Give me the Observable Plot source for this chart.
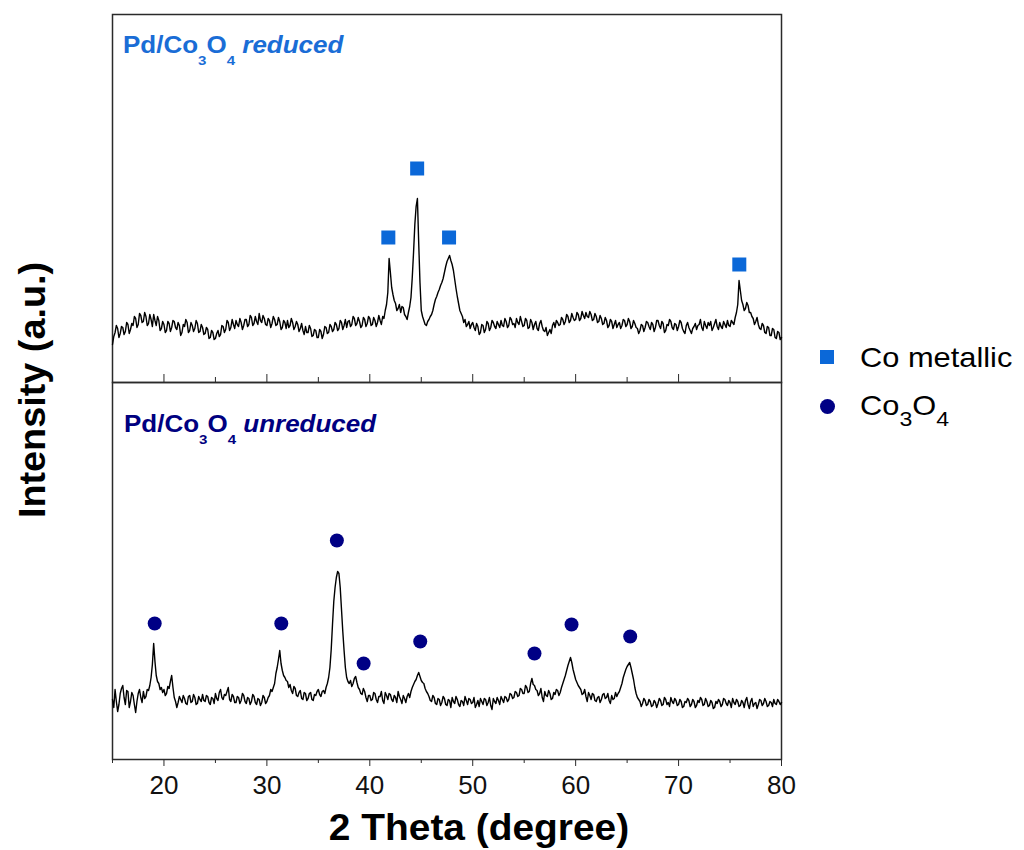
<!DOCTYPE html>
<html>
<head>
<meta charset="utf-8">
<script src="https://cdn.jsdelivr.net/npm/d3@7"></script>
<script src="https://cdn.jsdelivr.net/npm/@observablehq/plot@0.6"></script>
<style>
  body { margin: 0; background: #fff; font-family: "Liberation Sans", Arial, sans-serif; }
  #wrap { position: relative; width: 1024px; height: 850px; overflow: hidden; background: #fff; }
  .abs { position: absolute; white-space: nowrap; }
  .plotbox { position: absolute; left: 0; }
  .panel-label { font-size: 23px; line-height: 23px; font-weight: bold; transform: scaleX(1.13); transform-origin: left center; }
  .panel-label sub { font-size: 0.58em; position: relative; top: 0.9em; vertical-align: baseline; line-height: 0; }
  .legend-text { font-size: 28px; line-height: 28px; color: #000; transform: scaleX(1.1); transform-origin: left center; }
  .legend-text sub { font-size: 0.75em; position: relative; top: 0.55em; vertical-align: baseline; line-height: 0; }
  .axis-title { font-size: 36px; line-height: 36px; font-weight: bold; color: #000; }
</style>
</head>
<body>
<div id="wrap">
  <div class="plotbox" id="topPlot" style="top:0px"></div>
  <div class="plotbox" id="bottomPlot" style="top:378px"></div>

  <div class="abs panel-label" style="left:123px; top:33.5px; color:#1a6dd6;">Pd/Co<sub>3</sub>O<sub>4</sub> <i>reduced</i></div>
  <div class="abs panel-label" style="left:124px; top:412.5px; color:#000080;">Pd/Co<sub>3</sub>O<sub>4</sub> <i>unreduced</i></div>

  <div class="abs" style="left:820px; top:350px; width:14px; height:14px; background:#0b68d8;"></div>
  <div class="abs legend-text" style="left:860px; top:343.5px;">Co metallic</div>
  <div class="abs" style="left:820px; top:399px; width:15px; height:15px; border-radius:50%; background:#000085;"></div>
  <div class="abs legend-text" style="left:860px; top:391.5px;">Co<sub>3</sub>O<sub>4</sub></div>

  <div class="abs axis-title" style="left:479px; top:828px; transform: translate(-50%,-50%) scaleX(1.08);">2 Theta (degree)</div>
  <div class="abs axis-title" style="left:33px; top:390px; transform: translate(-50%,-50%) rotate(-90deg) scaleX(1.05);">Intensity (a.u.)</div>
</div>
<script>
// ---- sampling of the 2θ axis (degrees) ----
const thetaStart = 15;
const thetaStep = 0.125;

// ---- Pd/Co3O4 reduced: intensity (a.u.), one value every 0.125° from 15° to 80° (8 per row = 1°) ----
const reducedIntensity = [
  38, 46, 50, 57, 54, 45, 49, 56,        // 15
  55, 48, 51, 60, 58, 49, 53, 59,        // 16
  57, 66, 64, 55, 58, 69, 67, 60,        // 17
  61, 70, 66, 57, 59, 68, 63, 56,        // 18
  68, 62, 57, 66, 62, 52, 54, 61,        // 19
  58, 50, 52, 61, 59, 51, 55, 62,        // 20
  61, 55, 53, 60, 57, 47, 50, 58,        // 21
  56, 63, 60, 50, 52, 60, 57, 51,        // 22
  54, 62, 59, 50, 51, 58, 55, 48,        // 23
  49, 55, 53, 44, 45, 52, 50, 43,        // 24
  44, 49, 52, 46, 48, 57, 56, 50,        // 25
  53, 62, 60, 52, 55, 63, 58, 54,        // 26
  62, 58, 56, 64, 60, 53, 57, 63,        // 27
  63, 56, 58, 67, 65, 57, 59, 66,        // 28
  61, 58, 69, 62, 60, 67, 64, 58,        // 29
  57, 64, 62, 55, 59, 66, 63, 57,        // 30
  58, 65, 61, 53, 55, 62, 60, 54,        // 31
  62, 55, 57, 64, 60, 53, 56, 61,        // 32
  58, 51, 54, 59, 52, 48, 56, 50,        // 33
  50, 57, 54, 46, 47, 53, 52, 45,        // 34
  45, 53, 51, 44, 48, 56, 55, 49,        // 35
  50, 58, 56, 51, 53, 60, 58, 52,        // 36
  54, 62, 60, 53, 57, 63, 55, 61,        // 37
  62, 56, 58, 66, 64, 57, 59, 65,        // 38
  61, 55, 57, 65, 63, 56, 59, 66,        // 39
  64, 57, 58, 65, 62, 56, 60, 67,        // 40
  62, 58, 66, 64, 72, 78, 90, 124,       // 41
  110, 95, 88, 82, 79, 72, 74, 78,       // 42
  70, 76, 75, 68, 66, 63, 70, 76,        // 43
  85, 105, 130, 158, 176, 184, 140, 100, // 44
  72, 66, 62, 58, 57, 61, 63, 66,        // 45
  68, 72, 78, 83, 86, 90, 93, 97,        // 46
  100, 104, 110, 116, 121, 124, 127, 122,// 47
  118, 112, 103, 94, 86, 79, 72, 69,     // 48
  66, 60, 63, 56, 58, 61, 54, 58,        // 49
  60, 55, 52, 59, 56, 48, 50, 58,        // 50
  57, 50, 53, 61, 59, 52, 55, 62,        // 51
  60, 56, 54, 61, 58, 55, 62, 57,        // 52
  56, 64, 61, 55, 57, 65, 63, 58,        // 53
  59, 55, 64, 60, 58, 66, 61, 56,        // 54
  57, 64, 62, 54, 55, 63, 60, 53,        // 55
  58, 61, 54, 52, 59, 62, 56, 52,        // 56
  51, 55, 47, 50, 53, 49, 57, 60,        // 57
  55, 62, 60, 57, 58, 65, 63, 58,        // 58
  61, 68, 66, 60, 62, 69, 65, 62,        // 59
  63, 70, 68, 62, 64, 71, 67, 64,        // 60
  70, 66, 65, 71, 68, 62, 63, 69,        // 61
  66, 60, 61, 67, 64, 58, 59, 65,        // 62
  62, 55, 57, 63, 61, 54, 58, 62,        // 63
  55, 58, 60, 54, 57, 63, 62, 56,        // 64
  58, 64, 61, 54, 56, 62, 59, 55,        // 65
  54, 49, 52, 58, 57, 51, 55, 61,        // 66
  60, 56, 53, 60, 58, 51, 55, 62,        // 67
  62, 57, 54, 61, 59, 50, 52, 58,        // 68
  57, 63, 61, 55, 53, 59, 58, 52,        // 69
  56, 62, 60, 54, 51, 49, 57, 60,        // 70
  55, 52, 49, 54, 56, 59, 53, 57,        // 71
  58, 63, 55, 52, 61, 57, 54, 60,        // 72
  57, 61, 52, 55, 59, 63, 56, 53,        // 73
  60, 56, 54, 61, 58, 55, 62, 57,        // 74
  56, 62, 60, 58, 65, 70, 78, 102,       // 75
  92, 82, 78, 72, 74, 80, 77, 70,        // 76
  70, 66, 64, 58, 61, 65, 58, 54,        // 77
  53, 59, 57, 50, 49, 56, 55, 47,        // 78
  47, 54, 53, 45, 44, 51, 50, 43,        // 79
  45                                     // 80
];

// ---- Pd/Co3O4 unreduced: intensity (a.u.), one value every 0.125° from 15° to 80° (8 per row = 1°) ----
const unreducedIntensity = [
  60, 52, 70, 58, 48, 55, 66, 71,        // 15
  74, 62, 55, 69, 68, 52, 58, 67,        // 16
  64, 55, 47, 58, 66, 70, 62, 57,        // 17
  68, 61, 63, 70, 69, 74, 82, 95,        // 18
  116, 98, 84, 78, 76, 70, 72, 67,       // 19
  70, 64, 66, 73, 71, 78, 84, 72,        // 20
  62, 58, 52, 57, 63, 60, 57, 64,        // 21
  61, 56, 55, 63, 64, 57, 58, 65,        // 22
  62, 55, 56, 63, 60, 58, 65, 59,        // 23
  58, 64, 63, 57, 55, 62, 61, 56,        // 24
  66, 61, 59, 67, 70, 62, 60, 65,        // 25
  64, 68, 72, 60, 58, 65, 63, 57,        // 26
  57, 63, 62, 56, 59, 66, 64, 58,        // 27
  56, 62, 61, 55, 58, 65, 63, 57,        // 28
  55, 61, 60, 54, 57, 64, 62, 56,        // 29
  58, 62, 64, 70, 68, 72, 76, 86,        // 30
  92, 100, 109, 96, 89, 84, 82, 79,      // 31
  78, 72, 75, 69, 66, 73, 71, 64,        // 32
  63, 67, 69, 61, 60, 67, 66, 59,        // 33
  61, 66, 67, 60, 59, 65, 64, 68,        // 34
  70, 65, 63, 68, 69, 66, 72, 76,        // 35
  82, 92, 110, 135, 158, 172, 182, 188,  // 36
  186, 172, 150, 128, 109, 92, 82, 78,   // 37
  76, 79, 73, 76, 81, 83, 77, 72,        // 38
  70, 66, 65, 71, 68, 62, 58, 64,        // 39
  64, 59, 60, 67, 66, 60, 57, 63,        // 40
  63, 68, 59, 56, 67, 64, 60, 66,        // 41
  65, 60, 58, 64, 62, 57, 68, 63,        // 42
  60, 56, 64, 61, 57, 63, 66, 62,        // 43
  68, 72, 75, 78, 80, 84, 87, 83,        // 44
  79, 77, 76, 71, 68, 66, 63, 59,        // 45
  58, 64, 62, 56, 55, 61, 60, 54,        // 46
  57, 63, 61, 55, 54, 60, 59, 52,        // 47
  62, 58, 56, 63, 60, 55, 53, 59,        // 48
  58, 54, 63, 59, 55, 61, 60, 56,        // 49
  57, 62, 52, 55, 59, 53, 61, 58,        // 50
  55, 61, 60, 54, 57, 62, 54, 50,        // 51
  61, 58, 56, 62, 59, 55, 63, 60,        // 52
  57, 63, 62, 58, 60, 66, 65, 61,        // 53
  62, 68, 67, 63, 64, 71, 70, 66,        // 54
  66, 74, 72, 67, 68, 76, 81, 75,        // 55
  74, 70, 69, 64, 66, 71, 62, 58,        // 56
  68, 64, 63, 69, 66, 60, 61, 67,        // 57
  65, 70, 69, 64, 67, 72, 76, 80,        // 58
  84, 89, 94, 98, 102, 97, 90, 85,       // 59
  80, 77, 74, 72, 70, 65, 66, 70,        // 60
  63, 58, 67, 64, 60, 66, 65, 59,        // 61
  58, 62, 63, 57, 60, 65, 66, 61,        // 62
  62, 66, 59, 56, 64, 60, 61, 67,        // 63
  63, 66, 68, 72, 76, 82, 86, 90,        // 64
  93, 95, 97, 92, 86, 80, 72, 66,        // 65
  62, 60, 58, 53, 56, 61, 59, 54,        // 66
  55, 60, 58, 53, 54, 59, 57, 52,        // 67
  56, 61, 59, 54, 55, 62, 60, 55,        // 68
  57, 53, 62, 58, 56, 61, 59, 54,        // 69
  55, 60, 58, 52, 53, 58, 57, 61,        // 70
  59, 53, 55, 60, 58, 52, 54, 59,        // 71
  57, 62, 60, 54, 55, 61, 58, 53,        // 72
  54, 59, 57, 51, 52, 58, 56, 60,        // 73
  58, 53, 55, 61, 60, 56, 54, 59,        // 74
  57, 52, 61, 57, 55, 60, 58, 53,        // 75
  54, 59, 57, 52, 59, 62, 55, 51,        // 76
  58, 61, 53, 56, 57, 51, 55, 60,        // 77
  59, 54, 56, 61, 58, 53, 54, 58,        // 78
  57, 53, 60, 56, 55, 60, 58, 55,        // 79
  57                                     // 80
];

// ---- peak markers ----
const coMetallicTheta = [41.8, 44.6, 47.7, 75.9];
const coMetallicMarkY = [145, 214, 145, 118];
const co3o4Theta = [19.1, 31.4, 36.8, 39.4, 44.9, 56.0, 59.6, 65.3];
const co3o4MarkY = [136, 136, 219, 96, 118, 106, 135, 123];

// ---- axis ticks ----
const majorTicks = [20, 30, 40, 50, 60, 70, 80];
const minorTicks = [15, 25, 35, 45, 55, 65, 75];

// ---- tables built from the arrays ----
const toSeries = (arr) => arr.map((v, i) => ({theta: thetaStart + i * thetaStep, intensity: v}));
const reduced = toSeries(reducedIntensity);
const unreduced = toSeries(unreducedIntensity);
const coMetallic = coMetallicTheta.map((t, i) => ({theta: t, intensity: coMetallicMarkY[i]}));
const co3o4 = co3o4Theta.map((t, i) => ({theta: t, intensity: co3o4MarkY[i]}));

const BLUE = "#0b68d8";
const NAVY = "#000085";
const FRAME = "#2a2a2a";
const common = {
  width: 1024,
  marginLeft: 112,
  marginRight: 243,
  style: {background: "transparent", overflow: "visible", fontFamily: "'Liberation Sans', Arial, sans-serif", color: "#111"}
};

const topPlot = Plot.plot({
  ...common,
  height: 386,
  marginTop: 14,
  marginBottom: 4,
  x: {domain: [15, 80], label: null},
  y: {domain: [0, 368], axis: null},
  marks: [
    Plot.frame({stroke: FRAME, strokeWidth: 1.5}),
    Plot.axisX(majorTicks, {anchor: "bottom", tickSize: -8, tickFormat: () => "", label: null, stroke: FRAME}),
    Plot.axisX(minorTicks, {anchor: "bottom", tickSize: -5, tickFormat: () => "", label: null, stroke: FRAME}),
    Plot.line(reduced, {x: "theta", y: "intensity", stroke: "#000", strokeWidth: 1.4}),
    Plot.dot(coMetallic, {x: "theta", y: "intensity", symbol: "square", r: 7.9, fill: BLUE, stroke: null})
  ]
});
document.getElementById("topPlot").appendChild(topPlot);

const bottomPlot = Plot.plot({
  ...common,
  height: 472,
  marginTop: 4,
  marginBottom: 91,
  x: {domain: [15, 80], label: null},
  y: {domain: [0, 377], axis: null},
  marks: [
    Plot.frame({stroke: FRAME, strokeWidth: 1.5}),
    Plot.axisX(majorTicks, {anchor: "bottom", tickSize: 7, tickPadding: 9, fontSize: 26, label: null, stroke: FRAME, fill: "#111", tickFormat: (d) => String(d)}),
    Plot.axisX(minorTicks, {anchor: "bottom", tickSize: 4, tickFormat: () => "", label: null, stroke: FRAME}),
    Plot.line(unreduced, {x: "theta", y: "intensity", stroke: "#000", strokeWidth: 1.4}),
    Plot.dot(co3o4, {x: "theta", y: "intensity", symbol: "circle", r: 7, fill: NAVY, stroke: null})
  ]
});
document.getElementById("bottomPlot").appendChild(bottomPlot);
</script>
</body>
</html>
